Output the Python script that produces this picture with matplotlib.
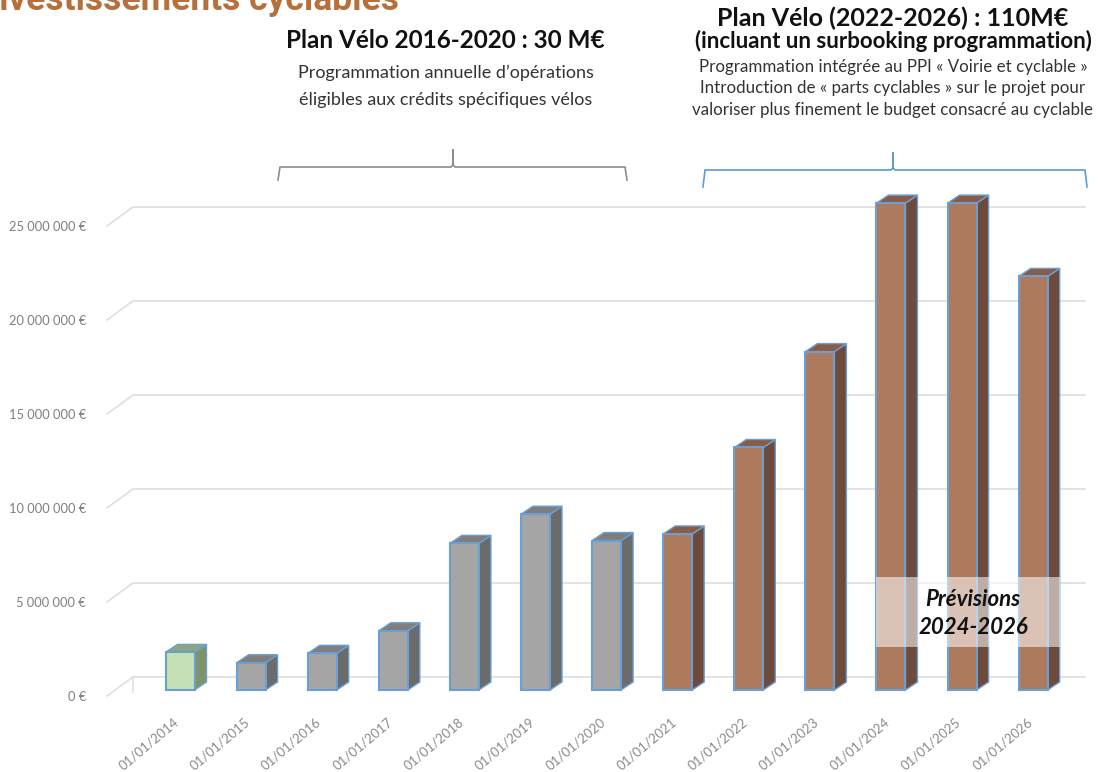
import numpy as np
import matplotlib.pyplot as plt
from matplotlib.patches import Rectangle, Polygon
from matplotlib.lines import Line2D

# --- données ---
annees = ["01/01/2014", "01/01/2015", "01/01/2016", "01/01/2017", "01/01/2018",
          "01/01/2019", "01/01/2020", "01/01/2021", "01/01/2022", "01/01/2023",
          "01/01/2024", "01/01/2025", "01/01/2026"]
montants = [2.0e6, 1.45e6, 1.95e6, 3.15e6, 7.8e6, 9.35e6, 7.95e6, 8.3e6,
            12.9e6, 18.0e6, 25.9e6, 25.9e6, 22.0e6]
groupes = ["avant", "plan1", "plan1", "plan1", "plan1", "plan1", "plan1",
           "plan2", "plan2", "plan2", "plan2", "plan2", "plan2"]
graduations = [0, 5e6, 10e6, 15e6, 20e6, 25e6]
etiquettes_y = ["0 €", "5 000 000 €", "10 000 000 €", "15 000 000 €",
                "20 000 000 €", "25 000 000 €"]

# couleurs (face, côté, dessus)
couleurs = {
    "avant": ("#C5E0B4", "#7D9468", "#8FA57F"),
    "plan1": ("#A5A5A5", "#6B6B6B", "#7E7E7E"),
    "plan2": ("#AE7A5E", "#6E4A3A", "#8A5C48"),
}
bord = "#6A9FD4"

W, H = 1098, 772
fig = plt.figure(figsize=(W / 100, H / 100), dpi=100)
plt.rcParams['font.family'] = ['Lato', 'DejaVu Sans']


def px(x, y):
    return (x / W, 1 - y / H)


# axes : bord gauche = plan avant des graduations
ax = fig.add_axes([107 / W, 1 - 705 / H, (W - 107) / W, 705 / H])
ax.set_facecolor('none')
for s in ax.spines.values():
    s.set_visible(False)

ech = 18.8e-6  # pixels par euro
ax.set_ylim((696 - 705) / ech, 696 / ech)
x0 = -(172 - 107) / 71.1
ax.set_xlim(x0, (W - 172) / 71.1)

# profondeur 3D
DX, DY = 26 / 71.1, 19 / ech
xdroite = (1085 - 172) / 71.1

# grille sur le mur du fond
for g in graduations:
    ax.plot([x0, x0 + DX, xdroite], [g, g + DY, g + DY], color="#DEDEDE",
            lw=1.2, zorder=1, clip_on=False)
ax.plot([x0 + DX, x0 + DX], [DY, 4 / ech], color="#DEDEDE", lw=1.1, zorder=1)

# barres pseudo-3D
ox, oy = 8 / 71.1, 6 / ech
sx, sy = 12 / 71.1, 8 / ech
w = 29 / 71.1
for i, (v, grp) in enumerate(zip(montants, groupes)):
    face, cote, dessus = couleurs[grp]
    xl = i + ox - w / 2
    xr = xl + w
    bas = oy
    haut = oy + v
    ax.add_patch(Polygon([(xr, bas), (xr + sx, bas + sy), (xr + sx, haut + sy), (xr, haut)],
                         closed=True, fc=cote, ec=bord, lw=1.0, zorder=3))
    ax.add_patch(Polygon([(xl, haut), (xr, haut), (xr + sx, haut + sy), (xl + sx, haut + sy)],
                         closed=True, fc=dessus, ec=bord, lw=1.0, zorder=3))
    ax.add_patch(Rectangle((xl, bas), w, v, fc=face, ec=bord, lw=1.5, zorder=4))

# zone "Prévisions"
i1, i2 = 10, 12
xa = i1 + ox - w / 2
xb = i2 + ox + w / 2 + sx
ax.add_patch(Rectangle((xa, 2.61e6), xb - xa, 6.33e6 - 2.61e6, fc="white",
                       ec="none", alpha=0.55, zorder=5))
ax.text((xa + xb) / 2 + 0.07, 4.4e6, "Prévisions\n2024-2026", ha="center", va="center",
        fontsize=16, fontweight="bold", fontstyle="italic", color="#111111",
        linespacing=1.4, zorder=6)

# axes / graduations
ax.set_yticks(graduations)
ax.set_yticklabels(etiquettes_y)
ax.tick_params(axis='y', length=0, pad=15, labelsize=9.3, labelcolor="#7F7F7F")
ax.set_xticks(np.arange(len(annees)) + 0.02)
ax.set_xticklabels(annees, rotation=40, ha="right", va="top", rotation_mode="anchor")
ax.tick_params(axis='x', length=0, pad=8, labelsize=9.5, labelcolor="#8A8A8A")

# titre coupé en haut
fig.text(-0.02, 1 - 10 / H, "Investissements cyclables", fontsize=25.5,
         fontweight="bold", color="#B5703B", family=["Roboto", "DejaVu Sans"],
         ha="left", va="baseline")

# annotations plan 1
fig.text(*px(445, 40), "Plan Vélo 2016-2020 : 30 M€", ha="center", va="center",
         fontsize=17.5, fontweight="bold", color="#111111")
fig.text(*px(446, 73), "Programmation annuelle d’opérations", ha="center",
         va="center", fontsize=13, color="#333333")
fig.text(*px(446, 100), "éligibles aux crédits spécifiques vélos", ha="center",
         va="center", fontsize=13, color="#333333")

# annotations plan 2
fig.text(*px(893, 18), "Plan Vélo (2022-2026) : 110M€", ha="center", va="center",
         fontsize=18, fontweight="bold", color="#111111")
fig.text(*px(893, 41), "(incluant un surbooking programmation)", ha="center",
         va="center", fontsize=16, fontweight="bold", color="#111111")
lignes = ["Programmation intégrée au PPI « Voirie et cyclable »",
          "Introduction de « parts cyclables » sur le projet pour",
          "valoriser plus finement le budget consacré au cyclable"]
for k, t in enumerate(lignes):
    fig.text(*px(893, 67 + 21.5 * k), t, ha="center", va="center",
             fontsize=12.2, color="#333333")


# accolades
def accolade(xg, xd, xm, yh, ybas, yhaut, couleur):
    xs = [xg, xg + 2, xm - 2, xm, xm, xm, xm + 2, xd - 2, xd]
    ys = [ybas, yh, yh, yh - 2, yhaut, yh - 2, yh, yh, ybas]
    pts = [px(a, b) for a, b in zip(xs, ys)]
    fig.add_artist(Line2D([p[0] for p in pts], [p[1] for p in pts],
                          transform=fig.transFigure, color=couleur, lw=1.2))


accolade(278, 627, 453, 167, 180, 150, "#8C8C8C")
accolade(703, 1087, 893, 170, 187, 153, "#5B9BD5")

fig.savefig("out.png", dpi=100)
